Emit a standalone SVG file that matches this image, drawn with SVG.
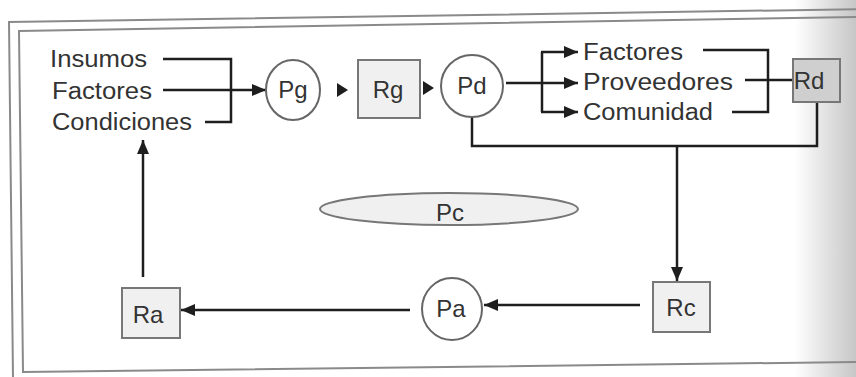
<svg xmlns="http://www.w3.org/2000/svg" width="856" height="377" viewBox="0 0 856 377">
<defs>
<linearGradient id="shade" x1="0" y1="0" x2="1" y2="0">
<stop offset="0" stop-color="#b8b8b8" stop-opacity="0"/>
<stop offset="1" stop-color="#b8b8b8" stop-opacity="0.8"/>
</linearGradient>
<marker id="arr" viewBox="0 0 14 12" refX="14" refY="6" markerWidth="14" markerHeight="12" markerUnits="userSpaceOnUse" orient="auto">
<path d="M0 0 L14 6 L0 12 Z" fill="#1e1e1e"/>
</marker>
</defs>
<style>
text{font-family:"Liberation Sans",Arial,sans-serif;font-size:23px;fill:#333}
.lbl{font-size:24px}
.frame{fill:none;stroke:#8a8a8a;stroke-width:2}
.c{fill:none;stroke:#1e1e1e;stroke-width:2.5}
.a{marker-end:url(#arr)}
.circ{fill:#fff;stroke:#666;stroke-width:2}
.box{fill:#f0f0f0;stroke:#777;stroke-width:2}
.dbox{fill:#cfcfcf;stroke:#777;stroke-width:2}
.tri{fill:#1e1e1e}
</style>
<rect width="856" height="377" fill="#fff"/>
<rect x="795" y="0" width="61" height="377" fill="url(#shade)"/>
<g id="frame">
<path class="frame" d="M870 9 L9 22 L13 378"/>
<path class="frame" d="M856 17 L19 31 L23 372 L856 362"/>
</g>
<g id="connectors">
<path class="c" d="M163 59 H231 V122 H205"/>
<path class="c a" d="M163 90 H266"/>
<polygon class="tri" points="337,83 348,90 337,97"/>
<polygon class="tri" points="423,81 434,88 423,95"/>
<path class="c a" d="M506 83 H578"/>
<path class="c" d="M542 52 V112"/>
<path class="c a" d="M541 52 H578"/>
<path class="c a" d="M541 112 H578"/>
<path class="c" d="M703 50 H768 V112 H732"/>
<path class="c" d="M745 80 H793"/>
<path class="c" d="M817 102 V146 H472 V117"/>
<path class="c a" d="M677 146 V281"/>
<path class="c a" d="M640 305 H484"/>
<path class="c a" d="M410 310 H181"/>
<path class="c a" d="M143 277 V140"/>
</g>
<g id="inputs">
<text x="50" y="67" textLength="97" lengthAdjust="spacingAndGlyphs">Insumos</text>
<text x="52" y="99" textLength="100" lengthAdjust="spacingAndGlyphs">Factores</text>
<text x="52" y="130" textLength="140" lengthAdjust="spacingAndGlyphs">Condiciones</text>
</g>
<g id="Pg">
<ellipse class="circ" cx="293" cy="90" rx="27" ry="30"/>
<text class="lbl" x="293" y="98" text-anchor="middle">Pg</text>
</g>
<g id="Rg">
<rect class="box" x="358" y="60" width="62" height="58"/>
<text class="lbl" x="388" y="98" text-anchor="middle">Rg</text>
</g>
<g id="Pd">
<ellipse class="circ" cx="472" cy="86" rx="31" ry="31"/>
<text class="lbl" x="472" y="94" text-anchor="middle">Pd</text>
</g>
<g id="outputs">
<text x="583" y="60" textLength="100" lengthAdjust="spacingAndGlyphs">Factores</text>
<text x="583" y="90" textLength="150" lengthAdjust="spacingAndGlyphs">Proveedores</text>
<text x="583" y="120" textLength="130" lengthAdjust="spacingAndGlyphs">Comunidad</text>
</g>
<g id="Rd">
<rect class="dbox" x="793" y="59" width="47" height="43"/>
<text class="lbl" x="809" y="89" text-anchor="middle">Rd</text>
</g>
<g id="Pc">
<ellipse class="box" cx="449" cy="209" rx="129" ry="16"/>
<text class="lbl" x="450" y="221" text-anchor="middle">Pc</text>
</g>
<g id="Rc">
<rect class="box" x="653" y="282" width="57" height="50"/>
<text class="lbl" x="681" y="316" text-anchor="middle">Rc</text>
</g>
<g id="Pa">
<ellipse class="circ" cx="452" cy="309" rx="30" ry="31"/>
<text class="lbl" x="451" y="317" text-anchor="middle">Pa</text>
</g>
<g id="Ra">
<rect class="box" x="122" y="288" width="58" height="50"/>
<text class="lbl" x="148" y="323" text-anchor="middle">Ra</text>
</g>
</svg>
